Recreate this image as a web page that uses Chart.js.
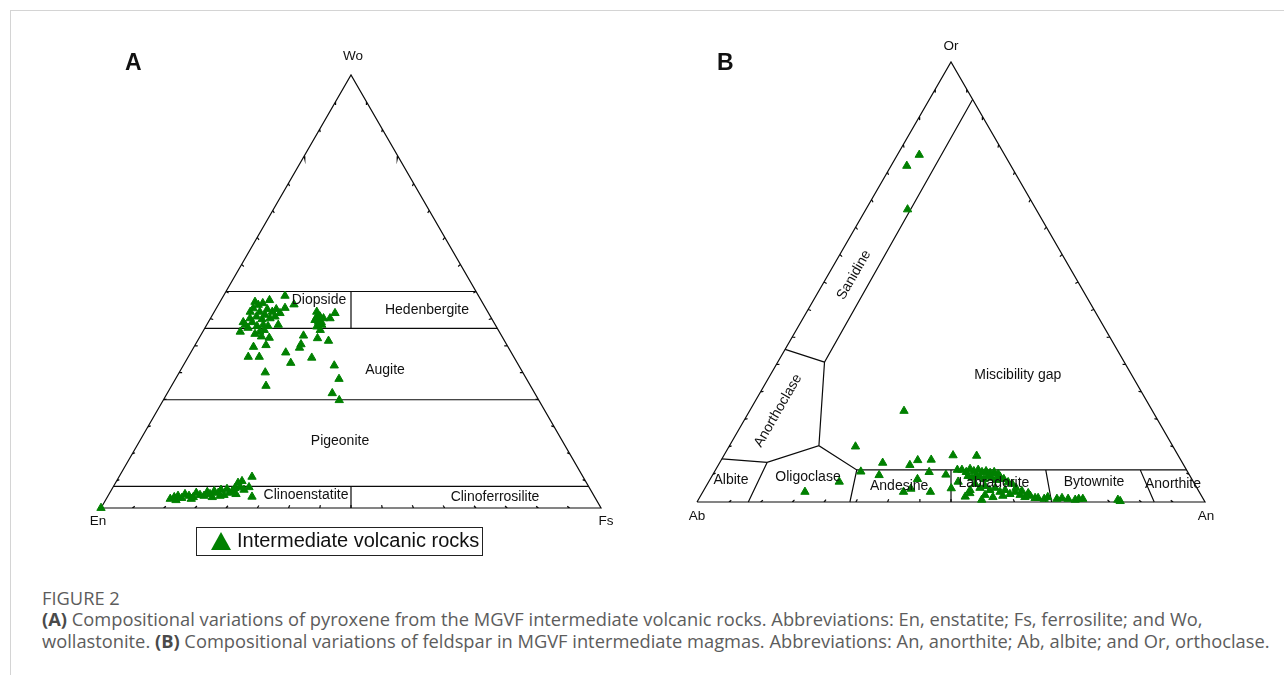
<!DOCTYPE html>
<html>
<head>
<meta charset="utf-8">
<script src="https://cdn.jsdelivr.net/npm/chart.js@4.4.1/dist/chart.umd.min.js"></script>
<style>
  body { margin: 0; background: #fff; width: 1284px; height: 675px; position: relative; overflow: hidden;
         font-family: "Liberation Sans", Arial, sans-serif; }
  .rule-top { position: absolute; left: 10px; top: 10px; right: 0; height: 1px; background: #d4d4d4; }
  .rule-left { position: absolute; left: 10px; top: 10px; bottom: 0; width: 1px; background: #d4d4d4; }
  canvas { position: absolute; }
  #chartA { left: 70px; top: 30px; }
  #chartB { left: 670px; top: 30px; }
  .panel { position: absolute; font-weight: bold; font-size: 23px; color: #111; }
  .legend { position: absolute; left: 196px; top: 527px; width: 285px; height: 27px; border: 1.5px solid #222;
            box-sizing: content-box; }
  .legend .tri { position: absolute; left: 14px; top: 4px; width: 0; height: 0;
                 border-left: 10px solid transparent; border-right: 10px solid transparent; border-bottom: 18px solid #008000; }
  .legend .txt { position: absolute; left: 40px; top: 1px; font-size: 20px; color: #111; white-space: nowrap; }
  .fig { position: absolute; left: 42px; top: 587px; font-family: "Open Sans", sans-serif; font-size: 18.3px;
         line-height: 22px; color: #5c5c5c; }
  .cap { position: absolute; left: 42px; top: 608px; font-family: "Open Sans", sans-serif; font-size: 18.3px;
         line-height: 22px; color: #5c5c5c; white-space: nowrap; }
  .cap b { color: #4a4a4a; }
</style>
</head>
<body>
<div class="rule-top"></div>
<div class="rule-left"></div>
<canvas id="chartA" width="580" height="510"></canvas>
<canvas id="chartB" width="580" height="510"></canvas>
<div class="panel" style="left:125px; top:49px;">A</div>
<div class="panel" style="left:717px; top:49px;">B</div>
<div class="legend"><span class="tri"></span><span class="txt">Intermediate volcanic rocks</span></div>
<div class="fig">FIGURE 2</div>
<div class="cap"><b>(A)</b> Compositional variations of pyroxene from the MGVF intermediate volcanic rocks. Abbreviations: En, enstatite; Fs, ferrosilite; and Wo,<br>wollastonite. <b>(B)</b> Compositional variations of feldspar in MGVF intermediate magmas. Abbreviations: An, anorthite; Ab, albite; and Or, orthoclase.</div>

<script>
// ---- Pyroxene (A): Wo and Fs in mol %, En = 100 - Wo - Fs
const pyxWo = [49.0, 46.2, 47.0, 48.0, 47.3, 47.6, 46.1, 40.7, 42.3, 43.8, 44.2, 45.3, 44.6, 43.8, 44.2, 42.3,
  42.3, 40.7, 39.6, 39.3, 37.2, 34.9, 34.9, 31.3, 28.2, 35.9, 33.5, 39.8, 37.8, 37.0, 34.7, 39.2, 38.6, 32.9,
  29.8, 26.5, 24.9, 45.3, 44.2, 43.0, 42.3, 41.9, 43.8, 43.8, 45.0, 41.1, 43.4, 42.9, 41.6, 42.9, 42.0, 43.6,
  45.9, 45.3, 46.9, 41.1, 42.0, 45.3, 45.9, 45.0, 40.2, 37.6, 44.3, 42.9, 43.9,
  0.0, 2.1, 2.5, 2.8, 2.3, 3.2, 2.8, 2.5, 3.5, 3.0, 2.8, 3.7, 3.2, 3.9, 3.5, 4.2, 3.0, 4.4, 3.5, 3.9, 4.6,
  5.8, 4.8, 4.2, 4.8, 7.2, 2.6, 1.8, 2.1, 2.5, 2.8, 3.2, 6.2];
const pyxFs = [12.3, 13.7, 15.1, 9.7, 8.7, 7.0, 7.4, 7.5, 7.7, 7.9, 9.0, 9.1, 10.5, 11.9, 12.7, 14.3,
  11.3, 11.4, 12.3, 14.0, 11.9, 12.0, 14.2, 17.2, 18.9, 19.0, 21.2, 20.6, 21.1, 21.2, 24.8, 23.7, 26.2, 30.2,
  32.7, 33.0, 35.2, 20.5, 21.7, 22.0, 23.0, 22.2, 22.6, 23.9, 24.3, 23.3, 21.1, 7.0, 8.6, 8.8, 10.2, 10.4,
  10.3, 11.6, 8.0, 12.1, 12.4, 7.2, 12.1, 13.3, 10.7, 14.2, 21.3, 22.6, 21.1,
  0.0, 12.8, 13.4, 14.0, 15.0, 15.2, 16.2, 17.2, 17.3, 18.3, 19.2, 19.4, 20.2, 20.7, 21.7, 21.9, 23.1, 23.0,
  23.9, 24.3, 24.5, 24.5, 25.4, 26.5, 27.2, 26.6, 28.9, 14.1, 17.0, 21.0, 22.4, 25.4, 25.1];

// ---- Feldspar (B): An and Or in mol %, Ab = 100 - An - Or
const fspAn = [4.3, 3.1, 8.2, 30.4, 24.9, 28.8, 32.1, 32.8, 25.7, 20.1, 39.5, 37.7, 38.7, 41.3, 42.3, 40.8,
  44.8, 40.6, 45.1, 45.9, 49.8, 48.5, 47.6, 49.1, 52.7, 55.8, 52.2, 66.7, 68.5, 70.5, 72.7, 74.2, 75.6, 82.6,
  48.5, 49.6, 50.0, 51.0, 51.7, 52.7, 53.4, 54.4, 55.1, 56.1, 50.4, 51.4, 51.9, 52.9, 53.9, 54.3, 55.3, 56.4,
  56.8, 57.8, 59.0, 60.0, 52.7, 54.1, 54.9, 56.3, 57.1, 58.5, 59.3, 60.7, 61.5, 62.8, 64.0, 64.9, 66.1, 61.2,
  62.7, 64.2, 59.5, 57.7, 55.9, 52.4, 68.0, 71.4, 74.8, 83.2];
const fspOr = [78.9, 76.4, 66.5, 20.7, 12.6, 6.9, 8.9, 6.1, 4.6, 2.3, 2.3, 8.4, 9.5, 9.6, 6.8, 5.2,
  2.3, 3.0, 10.6, 6.2, 10.5, 3.1, 7.3, 4.6, 2.0, 0.5, 1.2, 0.9, 1.1, 0.7, 0.7, 0.5, 0.7, 0.5,
  7.3, 6.8, 7.5, 7.0, 7.3, 6.8, 7.0, 6.6, 6.8, 6.4, 5.9, 5.5, 6.1, 5.7, 5.2, 5.9, 5.5, 5.0,
  5.7, 5.2, 4.5, 4.1, 4.1, 3.2, 3.6, 2.7, 3.2, 2.3, 2.7, 1.8, 2.3, 1.6, 1.1, 1.4, 0.9, 3.2,
  2.5, 2.0, 1.4, 1.1, 1.6, 2.7, 0.7, 0.9, 0.7, 0.2];

// field boundaries, each polyline as [top %, right %] pairs (A: [Wo, Fs], B: [Or, An])
const pyxFields = [
  [[50, 0], [50, 50]],
  [[41.5, 0], [41.5, 58.5]],
  [[25, 0], [25, 75]],
  [[5, 0], [5, 95]],
  [[50, 25], [41.5, 29.25]],
  [[5, 47.5], [0, 50]]
];
const fspFields = [
  [[91.5, 8.5], [31.8, 9.2], [12.8, 17.6]],
  [[34.7, 0], [31.8, 9.2]],
  [[9.8, 0], [9.0, 9.3], [12.8, 17.6], [7.3, 27.8], [7.3, 92.7]],
  [[9.0, 9.3], [0, 10.1]],
  [[7.3, 27.8], [0, 30.1]],
  [[7.3, 46.35], [0, 50]],
  [[7.3, 65.0], [0, 69.8]],
  [[7.3, 83.6], [0, 90]]
];

const pyxNames = ["Diopside", "Hedenbergite", "Augite", "Pigeonite", "Clinoenstatite", "Clinoferrosilite"];
const pyxNameAt = [[48.0, 19.6], [45.7, 42.35], [31.9, 40.85], [15.5, 40.05], [3.0, 39.5], [2.5, 77.55]];
const fspNames = ["Sanidine", "Anorthoclase", "Miscibility gap", "Albite", "Oligoclase", "Andesine",
  "Labradorite", "Bytownite", "Anorthite"];
const fspNameAt = [[51.6, 5.1], [20.75, 5.6], [28.9, 48.7], [5.0, 4.2], [5.7, 19.0], [3.6, 38.0],
  [4.3, 56.3], [4.5, 75.9], [4.1, 91.65]];
const fspNameRot = [-60, -60, 0, 0, 0, 0, 0, 0, 0];

const H = Math.sqrt(3) / 2;
function tern(top, right) {
  return { x: right + top / 2, y: top * H };
}

function polylines(list) {
  const pts = [];
  list.forEach(line => {
    line.forEach(p => pts.push(tern(p[0], p[1])));
    pts.push({ x: null, y: null });
  });
  return pts;
}

// outline + small inward ticks every 1/16 of a side
function frame() {
  const v = [tern(0, 0), tern(0, 100), tern(100, 0)];
  const c = { x: 50, y: 100 * H / 3 };
  const pts = [v[0], v[1], v[2], v[0], { x: null, y: null }];
  for (let e = 0; e < 3; e++) {
    const a = v[e], b = v[(e + 1) % 3];
    for (let k = 1; k < 16; k++) {
      const px = a.x + (b.x - a.x) * k / 16, py = a.y + (b.y - a.y) * k / 16;
      const dx = c.x - px, dy = c.y - py, d = Math.hypot(dx, dy);
      pts.push({ x: px, y: py }, { x: px + dx / d * 0.6, y: py + dy / d * 0.6 }, { x: null, y: null });
    }
  }
  return pts;
}

function textPlugin(names, at, rots, vertices) {
  return {
    id: "fieldText",
    afterDatasetsDraw(chart) {
      const ctx = chart.ctx, xs = chart.scales.x, ys = chart.scales.y;
      ctx.save();
      ctx.fillStyle = "#111";
      ctx.textAlign = "center";
      ctx.textBaseline = "middle";
      ctx.font = "14px 'Liberation Sans', Arial, sans-serif";
      names.forEach((n, i) => {
        const p = tern(at[i][0], at[i][1]);
        ctx.save();
        ctx.translate(xs.getPixelForValue(p.x), ys.getPixelForValue(p.y));
        ctx.rotate((rots ? rots[i] : 0) * Math.PI / 180);
        ctx.fillText(n, 0, 0);
        ctx.restore();
      });
      ctx.font = "13.5px 'Liberation Sans', Arial, sans-serif";
      vertices.forEach(v => {
        const p = tern(v.top, v.right);
        ctx.fillText(v.text, xs.getPixelForValue(p.x) + v.dx, ys.getPixelForValue(p.y) + v.dy);
      });
      ctx.restore();
    }
  };
}

function ternaryChart(id, tops, rights, fields, xr, yr, plugin) {
  const pts = tops.map((t, i) => tern(t, rights[i]));
  return new Chart(document.getElementById(id), {
    type: "scatter",
    data: {
      datasets: [
        { data: pts, pointStyle: "triangle", pointRadius: 4.8, borderWidth: 1,
          backgroundColor: "#008000", borderColor: "#008000", order: 0 },
        { data: polylines(fields), showLine: true, spanGaps: false, pointRadius: 0,
          borderColor: "#0a0a0a", borderWidth: 1.2, order: 1 },
        { data: frame(), showLine: true, spanGaps: false, pointRadius: 0,
          borderColor: "#0a0a0a", borderWidth: 1.2, order: 1 }
      ]
    },
    options: {
      responsive: false,
      animation: false,
      devicePixelRatio: 1,
      layout: { padding: 0, autoPadding: false },
      clip: false,
      scales: {
        x: { type: "linear", display: false, min: xr[0], max: xr[1] },
        y: { type: "linear", display: false, min: yr[0], max: yr[1] }
      },
      plugins: { legend: { display: false }, tooltip: { enabled: false } }
    },
    plugins: [plugin]
  });
}

// A: side of 100 units = 500 px, En corner at page (101, 508); canvas at (70, 30) 580x510
ternaryChart("chartA", pyxWo, pyxFs, pyxFields,
  [(70 - 101) / 5, (650 - 101) / 5], [(508 - 540) / 5, (508 - 30) / 5],
  textPlugin(pyxNames, pyxNameAt, null, [
    { text: "Wo", top: 100, right: 0, dx: 2, dy: -19 },
    { text: "En", top: 0, right: 0, dx: -3, dy: 13 },
    { text: "Fs", top: 0, right: 100, dx: 5, dy: 13 }
  ]));

// B: side of 100 units = 508 px, Ab corner at page (697, 502); canvas at (670, 30) 580x510
ternaryChart("chartB", fspOr, fspAn, fspFields,
  [(670 - 697) / 5.08, (1250 - 697) / 5.08], [(502 - 540) / 5.08, (502 - 30) / 5.08],
  textPlugin(fspNames, fspNameAt, fspNameRot, [
    { text: "Or", top: 100, right: 0, dx: 0, dy: -16 },
    { text: "Ab", top: 0, right: 0, dx: 0, dy: 14 },
    { text: "An", top: 0, right: 100, dx: 1, dy: 14 }
  ]));
</script>
</body>
</html>
